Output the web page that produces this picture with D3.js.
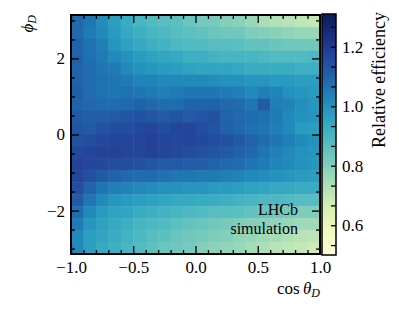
<!DOCTYPE html>
<html>
<head>
<meta charset="utf-8">
<script src="https://cdn.jsdelivr.net/npm/d3@7"></script>
<style>
  body { margin: 0; background: #fff; }
  text { font-family: "Liberation Serif", "DejaVu Serif", serif; }
</style>
</head>
<body>
<svg id="chart" width="399" height="309"></svg>
<script>
// binning of the histogram
const cosRange = [-1, 1];
const phiRange = [-Math.PI, Math.PI];
const nCos = 20;
const nPhi = 20;

// relative efficiency, rows from phi = +pi (top) down to phi = -pi (bottom),
// columns from cos = -1 to cos = +1
const efficiency = [
  [1.09,1.06,1.01,0.97,0.93,0.90,0.88,0.87,0.86,0.84,0.82,0.82,0.80,0.79,0.77,0.74,0.73,0.72,0.71,0.70],
  [1.09,1.05,1.02,0.98,0.94,0.92,0.90,0.89,0.87,0.86,0.85,0.84,0.83,0.83,0.81,0.80,0.79,0.78,0.77,0.77],
  [1.10,1.07,1.04,0.99,0.96,0.94,0.92,0.91,0.89,0.88,0.88,0.87,0.87,0.86,0.85,0.85,0.84,0.83,0.83,0.83],
  [1.10,1.07,1.05,1.02,1.00,0.98,0.96,0.95,0.94,0.92,0.92,0.91,0.90,0.90,0.90,0.89,0.88,0.88,0.88,0.89],
  [1.10,1.08,1.06,1.05,1.02,1.00,0.99,0.98,0.97,0.96,0.95,0.95,0.95,0.94,0.93,0.93,0.93,0.93,0.92,0.92],
  [1.10,1.08,1.07,1.06,1.05,1.03,1.03,1.02,1.02,1.02,1.02,1.01,1.00,1.00,0.99,0.99,0.98,0.98,0.97,0.97],
  [1.11,1.08,1.07,1.06,1.07,1.06,1.05,1.04,1.05,1.06,1.06,1.06,1.05,1.04,1.02,1.04,1.03,1.00,0.99,0.98],
  [1.10,1.09,1.08,1.08,1.09,1.10,1.09,1.08,1.08,1.10,1.10,1.10,1.09,1.08,1.06,1.12,1.04,1.03,1.01,0.99],
  [1.12,1.11,1.11,1.12,1.13,1.14,1.13,1.12,1.13,1.12,1.13,1.14,1.10,1.09,1.08,1.07,1.05,1.02,1.00,0.99],
  [1.13,1.12,1.14,1.15,1.15,1.16,1.17,1.15,1.17,1.17,1.15,1.13,1.10,1.09,1.07,1.06,1.04,1.02,0.98,0.97],
  [1.14,1.15,1.16,1.17,1.17,1.17,1.18,1.17,1.16,1.17,1.16,1.15,1.14,1.12,1.10,1.08,1.06,1.04,1.02,1.00],
  [1.16,1.17,1.18,1.18,1.17,1.17,1.18,1.17,1.16,1.15,1.14,1.13,1.12,1.10,1.09,1.06,1.04,1.02,1.00,0.99],
  [1.18,1.17,1.16,1.15,1.15,1.14,1.13,1.12,1.12,1.11,1.11,1.10,1.09,1.08,1.06,1.05,1.03,1.02,1.00,0.99],
  [1.17,1.14,1.12,1.10,1.09,1.08,1.08,1.07,1.06,1.06,1.05,1.05,1.04,1.03,1.02,1.01,1.00,0.99,0.98,0.97],
  [1.15,1.10,1.06,1.04,1.03,1.02,1.01,1.00,1.00,0.99,0.99,0.98,0.98,0.97,0.96,0.95,0.94,0.94,0.93,0.93],
  [1.12,1.06,1.02,0.99,0.98,0.97,0.96,0.95,0.94,0.94,0.93,0.93,0.92,0.91,0.90,0.89,0.89,0.88,0.87,0.87],
  [1.08,1.02,0.98,0.96,0.95,0.93,0.92,0.91,0.90,0.89,0.88,0.87,0.87,0.86,0.85,0.84,0.83,0.82,0.81,0.81],
  [1.05,0.99,0.96,0.94,0.92,0.90,0.89,0.88,0.86,0.85,0.84,0.83,0.82,0.81,0.80,0.79,0.78,0.77,0.76,0.76],
  [1.02,0.97,0.95,0.93,0.91,0.89,0.87,0.86,0.84,0.83,0.82,0.81,0.80,0.78,0.77,0.76,0.75,0.73,0.72,0.71],
  [1.02,0.97,0.94,0.92,0.90,0.88,0.86,0.84,0.83,0.82,0.80,0.79,0.78,0.77,0.75,0.74,0.72,0.71,0.70,0.68]
];

const xMajor = [-1.0, -0.5, 0.0, 0.5, 1.0];
const yMajor = [-2, 0, 2];
const cbMajor = [0.6, 0.8, 1.0, 1.2];
const cbRange = [0.5, 1.31];

const svg = d3.select("#chart");

const x = d3.scaleLinear().domain(cosRange).range([71, 320]);
const y = d3.scaleLinear().domain(phiRange).range([254, 15]);
const color = d3.scaleSequential(d3.interpolateYlGnBu).domain(cbRange);

const cosEdges = d3.range(nCos + 1).map(i => cosRange[0] + i * (cosRange[1] - cosRange[0]) / nCos);
const phiEdges = d3.range(nPhi + 1).map(i => phiRange[1] - i * (phiRange[1] - phiRange[0]) / nPhi);

// cells
const cells = [];
efficiency.forEach((row, j) => {
    row.forEach((v, i) => cells.push({i: i, j: j, v: v}));
});

svg.append("g")
    .selectAll("rect")
    .data(cells)
    .join("rect")
    .attr("x", d => x(cosEdges[d.i]))
    .attr("y", d => y(phiEdges[d.j]))
    .attr("width", d => x(cosEdges[d.i + 1]) - x(cosEdges[d.i]) + 0.5)
    .attr("height", d => y(phiEdges[d.j + 1]) - y(phiEdges[d.j]) + 0.5)
    .attr("fill", d => color(d.v));

// axes, ticks pointing inwards on all four sides
const xMinor = d3.range(-10, 11).map(k => k / 10).filter(v => !xMajor.some(m => Math.abs(m - v) < 1e-9));
const yMinor = d3.range(-6, 7).map(k => k / 2).filter(v => !yMajor.includes(v));

function styleAxis(g) {
    g.select(".domain").remove();
    g.selectAll(".tick line").attr("stroke", "#000").attr("stroke-width", 1.3);
    g.selectAll(".tick text")
        .attr("fill", "#000")
        .style("font-size", "17px")
        .style("font-family", "'Liberation Serif', serif");
}

const fmtX = d => (d < 0 ? "\u2212" : "") + Math.abs(d).toFixed(1);
const fmtY = d => (d < 0 ? "\u2212" : "") + Math.abs(d);

svg.append("g").attr("transform", "translate(0,254)")
    .call(d3.axisBottom(x).tickValues(xMajor).tickSize(-8).tickPadding(7).tickFormat(fmtX))
    .call(styleAxis);
svg.append("g").attr("transform", "translate(0,254)")
    .call(d3.axisBottom(x).tickValues(xMinor).tickSize(-4).tickFormat(""))
    .call(styleAxis);
svg.append("g").attr("transform", "translate(0,15)")
    .call(d3.axisTop(x).tickValues(xMajor).tickSize(-8).tickFormat(""))
    .call(styleAxis);
svg.append("g").attr("transform", "translate(0,15)")
    .call(d3.axisTop(x).tickValues(xMinor).tickSize(-4).tickFormat(""))
    .call(styleAxis);

svg.append("g").attr("transform", "translate(71,0)")
    .call(d3.axisLeft(y).tickValues(yMajor).tickSize(-8).tickPadding(6).tickFormat(fmtY))
    .call(styleAxis);
svg.append("g").attr("transform", "translate(71,0)")
    .call(d3.axisLeft(y).tickValues(yMinor).tickSize(-4).tickFormat(""))
    .call(styleAxis);
svg.append("g").attr("transform", "translate(320,0)")
    .call(d3.axisRight(y).tickValues(yMajor).tickSize(-8).tickFormat(""))
    .call(styleAxis);
svg.append("g").attr("transform", "translate(320,0)")
    .call(d3.axisRight(y).tickValues(yMinor).tickSize(-4).tickFormat(""))
    .call(styleAxis);

svg.append("rect")
    .attr("x", 71).attr("y", 15)
    .attr("width", 249).attr("height", 239)
    .attr("fill", "none").attr("stroke", "#000").attr("stroke-width", 2);

// axis titles
const xt = svg.append("text")
    .attr("x", 320).attr("y", 294)
    .attr("text-anchor", "end")
    .style("font-size", "17px");
xt.append("tspan").text("cos\u2009");
xt.append("tspan").attr("font-style", "italic").text("\u03b8");
xt.append("tspan").attr("font-style", "italic").attr("font-size", "12px").attr("dy", 3).text("D");

const yt = svg.append("text")
    .attr("transform", "translate(33,15) rotate(-90)")
    .attr("text-anchor", "end")
    .style("font-size", "17px");
yt.append("tspan").attr("font-style", "italic").text("\u03d5");
yt.append("tspan").attr("font-style", "italic").attr("font-size", "12px").attr("dy", 3).text("D");

// LHCb label
svg.append("text").attr("x", 298).attr("y", 215).attr("text-anchor", "end")
    .style("font-size", "16px").text("LHCb");
svg.append("text").attr("x", 298).attr("y", 234).attr("text-anchor", "end")
    .style("font-size", "16px").text("simulation");

// colour bar
const cb = d3.scaleLinear().domain(cbRange).range([255, 14]);
const grad = svg.append("defs").append("linearGradient")
    .attr("id", "cbgrad")
    .attr("x1", 0).attr("y1", 1).attr("x2", 0).attr("y2", 0);
grad.selectAll("stop")
    .data(d3.range(0, 1.0001, 0.02))
    .join("stop")
    .attr("offset", d => d)
    .attr("stop-color", d => color(cbRange[0] + d * (cbRange[1] - cbRange[0])));

svg.append("rect")
    .attr("x", 322).attr("y", cb(cbRange[1]))
    .attr("width", 14).attr("height", cb(cbRange[0]) - cb(cbRange[1]))
    .attr("fill", "url(#cbgrad)");

const cbMinor = d3.range(8, 20).map(k => k / 15).filter(v => v < cbRange[1] && !cbMajor.some(m => Math.abs(m - v) < 1e-6));

svg.append("g").attr("transform", "translate(336,0)")
    .call(d3.axisRight(cb).tickValues(cbMajor).tickSize(-5).tickPadding(6).tickFormat(d3.format(".1f")))
    .call(styleAxis);
svg.append("g").attr("transform", "translate(336,0)")
    .call(d3.axisRight(cb).tickValues(cbMinor).tickSize(-5).tickFormat(""))
    .call(styleAxis);

svg.append("rect")
    .attr("x", 322).attr("y", cb(cbRange[1]))
    .attr("width", 14).attr("height", cb(cbRange[0]) - cb(cbRange[1]))
    .attr("fill", "none").attr("stroke", "#000").attr("stroke-width", 1.5);

svg.append("text")
    .attr("transform", "translate(385,12) rotate(-90)")
    .attr("text-anchor", "end")
    .style("font-size", "18px")
    .text("Relative efficiency");
</script>
</body>
</html>
